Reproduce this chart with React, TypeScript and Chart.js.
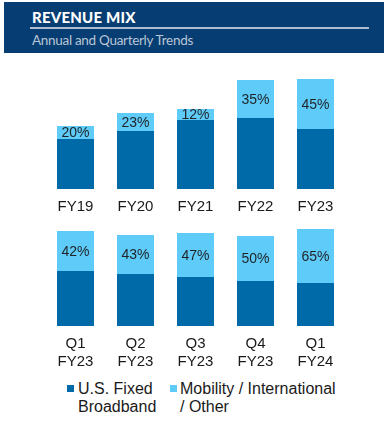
import React, { useEffect, useRef } from "react";
import { Chart, registerables } from "chart.js";

Chart.register(...registerables);

const annualCategories = ["FY19", "FY20", "FY21", "FY22", "FY23"];
const annualBroadband = [50, 58, 69, 71, 60];
const annualOther = [13, 18, 11, 38, 50];
const annualLabels = ["20%", "23%", "12%", "35%", "45%"];

const quarterCategories = [
  ["Q1", "FY23"],
  ["Q2", "FY23"],
  ["Q3", "FY23"],
  ["Q4", "FY23"],
  ["Q1", "FY24"],
];
const quarterBroadband = [55, 52, 49, 45, 43];
const quarterOther = [40, 39, 44, 45, 54];
const quarterLabels = ["42%", "43%", "47%", "50%", "65%"];

const seriesNames = [
  ["U.S. Fixed", "Broadband"],
  ["Mobility / International", "/ Other"],
];

const DARK = "#0069a8";
const LIGHT = "#5ecbf8";
const FONT = "'Liberation Sans', Arial, sans-serif";

const segmentLabels = {
  id: "segmentLabels",
  afterDatasetsDraw(chart: any) {
    const labels: string[] = chart.options.plugins.segmentLabels.labels;
    const meta = chart.getDatasetMeta(1);
    const ctx = chart.ctx;
    ctx.save();
    ctx.font = `14px ${FONT}`;
    ctx.fillStyle = "#1f2327";
    ctx.textAlign = "center";
    ctx.textBaseline = "middle";
    meta.data.forEach((el: any, i: number) => {
      const y = (el.y + el.base) / 2 + 1;
      ctx.fillText(labels[i], el.x, y);
    });
    ctx.restore();
  },
};

function makeChart(
  canvas: HTMLCanvasElement,
  categories: any[],
  dark: number[],
  light: number[],
  labels: string[],
  yMax: number,
  axisHeight: number
) {
  return new Chart(canvas, {
    type: "bar",
    data: {
      labels: categories,
      datasets: [
        {
          label: seriesNames[0].join(" "),
          data: dark,
          backgroundColor: DARK,
          categoryPercentage: 1,
          barPercentage: 37 / 60,
        },
        {
          label: seriesNames[1].join(" "),
          data: light,
          backgroundColor: LIGHT,
          categoryPercentage: 1,
          barPercentage: 37 / 60,
        },
      ],
    },
    options: {
      animation: false,
      responsive: false,
      maintainAspectRatio: false,
      layout: { padding: { left: 45.5, right: 38.5, top: 0, bottom: 0 } },
      scales: {
        x: {
          stacked: true,
          grid: { display: false, drawTicks: false },
          border: { display: false },
          ticks: {
            color: "#1a1a1a",
            font: { size: 15, family: FONT },
            padding: 9,
            maxRotation: 0,
            autoSkip: false,
          },
          afterFit: (scale: any) => {
            scale.height = axisHeight;
          },
        },
        y: {
          stacked: true,
          display: false,
          min: 0,
          max: yMax,
        },
      },
      plugins: {
        legend: { display: false },
        tooltip: { enabled: false },
        segmentLabels: { labels },
      } as any,
    },
    plugins: [segmentLabels],
  });
}

export default function App() {
  const topRef = useRef<HTMLCanvasElement>(null);
  const botRef = useRef<HTMLCanvasElement>(null);

  useEffect(() => {
    document.body.style.margin = "0";
    const c1 = makeChart(topRef.current!, annualCategories, annualBroadband, annualOther, annualLabels, 129, 31);
    const c2 = makeChart(botRef.current!, quarterCategories, quarterBroadband, quarterOther, quarterLabels, 104, 49);
    return () => {
      c1.destroy();
      c2.destroy();
    };
  }, []);

  return (
    <div style={{ position: "relative", width: 384, height: 425, background: "#fff", overflow: "hidden" }}>
      <div
        style={{
          position: "absolute",
          left: 4,
          top: 2,
          width: 380,
          height: 51,
          background: "#063d72",
        }}
      >
        <div
          style={{
            position: "absolute",
            left: 28,
            top: 6,
            color: "#ffffff",
            fontFamily: "Lato, sans-serif",
            fontWeight: 900,
            fontSize: 15,
            lineHeight: "18px",
            letterSpacing: 0.2,
          }}
        >
          REVENUE MIX
        </div>
        <div
          style={{
            position: "absolute",
            left: 26,
            top: 25,
            width: 339,
            height: 2,
            background: "#aebdd0",
          }}
        />
        <div
          style={{
            position: "absolute",
            left: 28,
            top: 29,
            color: "#b9c5d5",
            fontFamily: "Lato, sans-serif",
            fontSize: 13.5,
            lineHeight: "18px",
            letterSpacing: -0.3,
          }}
        >
          Annual and Quarterly Trends
        </div>
      </div>
      <canvas ref={topRef} width={384} height={160} style={{ position: "absolute", left: 0, top: 60, width: 384, height: 160 }} />
      <canvas ref={botRef} width={384} height={153} style={{ position: "absolute", left: 0, top: 222, width: 384, height: 153 }} />
      <div style={{ position: "absolute", left: 0, top: 380, fontFamily: FONT, fontSize: 16, lineHeight: "18px", color: "#1a1a1a" }}>
        {seriesNames.map((lines, i) => (
          <div key={i} style={{ position: "absolute", left: i === 0 ? 67 : 170, top: 0, whiteSpace: "nowrap" }}>
            <div style={{ position: "absolute", left: 0, top: 5, width: 7, height: 7, background: i === 0 ? DARK : LIGHT }} />
            <div style={{ position: "absolute", left: i === 0 ? 11 : 10, top: 0 }}>
              {lines.map((l, j) => (
                <div key={j}>{l}</div>
              ))}
            </div>
          </div>
        ))}
      </div>
    </div>
  );
}
